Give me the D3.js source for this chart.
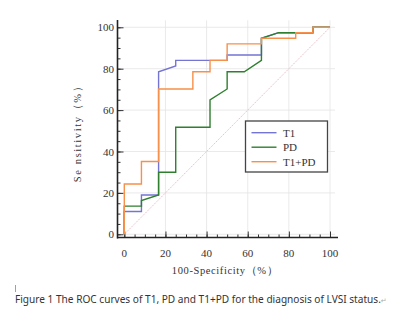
<!DOCTYPE html>
<html><head><meta charset="utf-8">
<script src="https://cdn.jsdelivr.net/npm/d3@7"></script>
<style>body{margin:0;background:#fff}svg{display:block}</style>
</head><body><svg id="c" width="400" height="314"></svg>
<script>
const xTicks=[0,20,40,60,80,100];
const yTicks=[0,20,40,60,80,100];
const seriesNames=["T1","PD","T1+PD"];
const seriesColors=["#7474d4","#2f7f2f","#f7904a"];
// ROC points [100-specificity, sensitivity]
const t1X=[0,0,8.33,8.33,16.67,16.67,25,25,41.67,50,50,66.67,66.67,75,91.67,91.67,100];
const t1Y=[0,11,11,19,19,78.5,81.3,84,84,84,86.6,86.6,94.7,97.4,97.4,100,100];
const pdX=[0,0,8.33,8.33,16.67,16.67,25,25,41.67,41.67,50,50,58.33,66.67,66.67,75,91.67,91.67,100];
const pdY=[0,13.6,13.6,16.3,19,30,30,51.7,51.7,64.9,70.2,78.5,78.5,84,94.7,97.4,97.4,100,100];
const cX=[0,0,8.33,8.33,16.67,16.67,33.33,33.33,41.67,41.67,50,50,66.67,66.67,83.33,83.33,91.67,91.67,100];
const cY=[0,24.3,24.3,35.2,35.2,70.2,70.2,78.5,78.5,84,84,92,92,94.7,94.7,97.4,97.4,100,100];

const svg=d3.select("#c");
const x=d3.scaleLinear().domain([0,100]).range([124.3,330]);
const y=d3.scaleLinear().domain([0,100]).range([234.3,27.3]);
const serif="'Liberation Serif','DejaVu Serif',serif";

// grid
const g=svg.append("g");
g.selectAll(".gx").data(xTicks.filter(d=>d>0)).enter().append("line")
 .attr("x1",d=>x(d)).attr("x2",d=>x(d)).attr("y1",y(100)-7).attr("y2",y(0)+3)
 .attr("stroke","#e4e4e4").attr("stroke-width",0.8);
g.selectAll(".gy").data(yTicks).enter().append("line")
 .attr("y1",d=>y(d)).attr("y2",d=>y(d)).attr("x1",117.5).attr("x2",x(100)+5)
 .attr("stroke","#e4e4e4").attr("stroke-width",0.8);

// diagonal
svg.append("line").attr("x1",x(0)).attr("y1",y(0)).attr("x2",x(100)).attr("y2",y(100))
 .attr("stroke","#e8b8c0").attr("stroke-width",0.9).attr("stroke-dasharray","1.5,1");

// axes
const yAxisMajor=d3.axisRight(y).tickValues(yTicks).tickSize(6).tickFormat("");
const yAxisMinor=d3.axisRight(y).tickValues(d3.range(0,101,5)).tickSize(3).tickFormat("");
const xAxisMajor=d3.axisTop(x).tickValues(xTicks).tickSize(6).tickFormat("");
const xAxisMinor=d3.axisTop(x).tickValues(d3.range(0,101,5)).tickSize(3).tickFormat("");
[yAxisMinor,yAxisMajor].forEach(a=>{
 const ga=svg.append("g").attr("transform","translate(117.5,0)").call(a);
 ga.select(".domain").remove();
 ga.selectAll("line").attr("stroke","#333").attr("stroke-width",1);
});
[xAxisMinor,xAxisMajor].forEach(a=>{
 const ga=svg.append("g").attr("transform","translate(0,237.5)").call(a);
 ga.select(".domain").remove();
 ga.selectAll("line").attr("stroke","#333").attr("stroke-width",1);
});
svg.append("line").attr("x1",117.5).attr("x2",117.5).attr("y1",20).attr("y2",238.5).attr("stroke","#222").attr("stroke-width",1.6);
svg.append("line").attr("x1",117).attr("x2",338).attr("y1",237.5).attr("y2",237.5).attr("stroke","#222").attr("stroke-width",1.6);

// tick labels
svg.selectAll(".yl").data(yTicks).enter().append("text")
 .attr("x",114).attr("y",d=>y(d)+4).attr("text-anchor","end")
 .attr("font-family",serif).attr("font-size",11).attr("fill","#333").text(d=>d);
svg.selectAll(".xl").data(xTicks).enter().append("text")
 .attr("x",d=>x(d)).attr("y",257).attr("text-anchor","middle")
 .attr("font-family",serif).attr("font-size",11).attr("fill","#333").text(d=>d);

// axis titles
svg.append("text").attr("x",225).attr("y",274).attr("text-anchor","middle")
 .attr("font-family",serif).attr("font-size",10.5).attr("fill","#333").attr("letter-spacing",0.6)
 .text("100-Specificity（%）");
svg.append("text").attr("transform","translate(81,131) rotate(-90)").attr("text-anchor","middle")
 .attr("font-family",serif).attr("font-size",10.5).attr("fill","#333").attr("letter-spacing",1.6)
 .text("Se nsitivity（%）");

// curves
const line=d3.line().x(d=>x(d[0])).y(d=>y(d[1]));
const data=[d3.zip(t1X,t1Y),d3.zip(pdX,pdY),d3.zip(cX,cY)];
data.forEach((pts,i)=>{
 svg.append("path").attr("d",line(pts)).attr("fill","none")
  .attr("stroke",seriesColors[i]).attr("stroke-width",1.4);
});

// legend
svg.append("rect").attr("x",245.5).attr("y",121).attr("width",82).attr("height",51)
 .attr("fill","#fff").attr("stroke","#444").attr("stroke-width",1.3);
seriesNames.forEach((n,i)=>{
 const ly=132.7+i*14.5;
 svg.append("line").attr("x1",251.5).attr("x2",276.5).attr("y1",ly).attr("y2",ly)
  .attr("stroke",seriesColors[i]).attr("stroke-width",1.4);
 svg.append("text").attr("x",283).attr("y",ly+4).attr("font-family",serif)
  .attr("font-size",11).attr("fill","#333").text(n);
});

// caption
svg.append("line").attr("x1",15.5).attr("x2",15.5).attr("y1",285).attr("y2",292).attr("stroke","#888").attr("stroke-width",0.8);
const cap=svg.append("text").attr("x",15).attr("y",303).attr("font-family","'Noto Sans','DejaVu Sans',sans-serif")
 .attr("font-size",10.1).attr("fill","#333");
cap.append("tspan").text("Figure 1 The ROC curves of T1, PD and T1+PD for the diagnosis of LVSI status.");
cap.append("tspan").attr("fill","#aaa").attr("font-size",7).text("↵");
</script></body></html>
